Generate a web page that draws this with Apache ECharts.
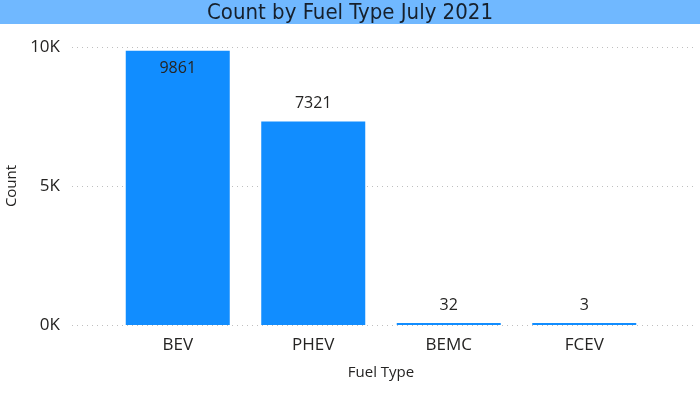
<!DOCTYPE html>
<html>
<head>
<meta charset="utf-8">
<script src="https://cdn.jsdelivr.net/npm/echarts@6/dist/echarts.min.js"></script>
<style>
  html, body { margin: 0; padding: 0; background: #fff; }
  #chart { width: 700px; height: 398px; }
</style>
</head>
<body>
<div id="chart"></div>
<script>
  // data
  const fuelTypes = ['BEV', 'PHEV', 'BEMC', 'FCEV'];
  const counts = [9861, 7321, 32, 3];
  const yTicks = [0, 5000, 10000];

  const chart = echarts.init(document.getElementById('chart'));
  const txt = '#252423';
  const font = 'Open Sans';

  // first bar carries its label inside the top, like the original
  const barData = counts.map((v, i) => i === 0
    ? { value: v, label: { position: 'insideTop', distance: 10 } }
    : { value: v });

  chart.setOption({
    animation: false,
    graphic: [{
      type: 'rect', left: 0, top: 0, z: -1,
      shape: { width: 700, height: 24 },
      style: { fill: '#70b8ff' }
    }],
    title: {
      text: 'Count by Fuel Type July 2021',
      left: 'center', top: -3,
      textStyle: { fontFamily: 'DejaVu Sans Condensed', fontSize: 22, fontWeight: 'normal', color: '#16202c' }
    },
    grid: [
      { left: 72, right: 5, top: 47, bottom: 73, outerBoundsMode: 'none' },   // gridlines, full width
      { left: 110, right: 48, top: 47, bottom: 73, outerBoundsMode: 'none' }  // bars
    ],
    xAxis: [
      { gridIndex: 0, type: 'value', show: false, min: 0, max: 1 },
      {
        gridIndex: 1, type: 'category', data: fuelTypes,
        axisLine: { show: false }, axisTick: { show: false },
        axisLabel: { color: txt, fontFamily: font, fontSize: 17, margin: 12 },
        name: 'Fuel Type', nameLocation: 'middle', nameGap: 40,
        nameTextStyle: { color: txt, fontFamily: font, fontSize: 15 }
      }
    ],
    yAxis: [
      {
        gridIndex: 0, type: 'value', min: yTicks[0], max: yTicks[yTicks.length - 1], interval: 5000,
        axisLine: { show: false }, axisTick: { show: false },
        splitLine: { lineStyle: { type: [1, 4], color: '#bfbfbf', width: 1 } },
        axisLabel: { color: txt, fontFamily: font, fontSize: 17, margin: 12,
          formatter: v => (v / 1000) + 'K' },
        name: 'Count', nameLocation: 'middle', nameGap: 50,
        nameTextStyle: { color: txt, fontFamily: font, fontSize: 15 }
      },
      {
        gridIndex: 1, type: 'value', min: 0, max: 10000, show: false
      }
    ],
    series: [{
      type: 'bar', xAxisIndex: 1, yAxisIndex: 1,
      data: barData,
      barWidth: 104,
      barMinHeight: 2,
      itemStyle: { color: '#118dff' },
      label: { show: true, position: 'top', distance: 10, color: txt, fontFamily: font, fontSize: 16 }
    }]
  });
</script>
</body>
</html>
